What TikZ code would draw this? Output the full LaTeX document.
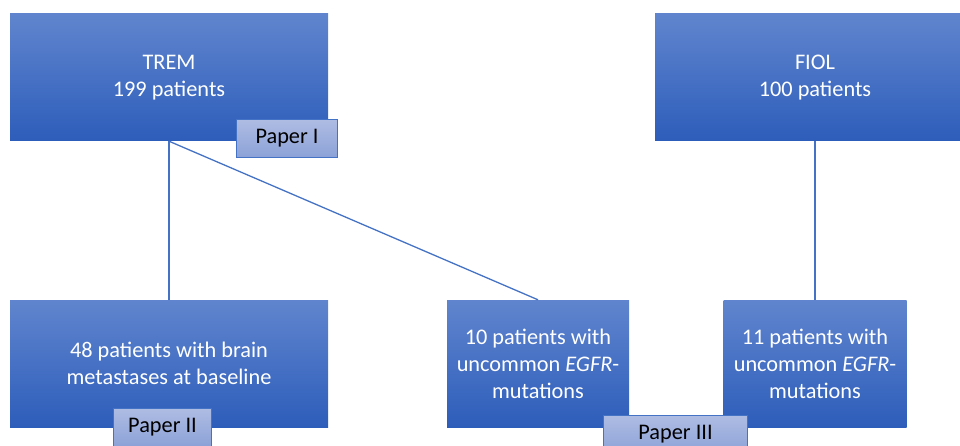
\documentclass[tikz,border=0pt]{standalone}
\usepackage{fontspec}
\setmainfont{Carlito}
\usepackage{tikz}
\usetikzlibrary{positioning}
\definecolor{boxtop}{HTML}{6085CE}
\definecolor{boxbot}{HTML}{2D5DBA}
\definecolor{tagtop}{HTML}{AEBCE3}
\definecolor{tagbot}{HTML}{8CA2D7}
\definecolor{edge}{HTML}{4472C4}
\tikzset{
  box/.style   ={top color=boxtop, bottom color=boxbot, align=center,
                 text=white, minimum height=127pt, inner sep=6pt,
                 font=\fontsize{22.3}{27}\selectfont},
  paper/.style ={draw=edge, line width=1.4pt, top color=tagtop, bottom color=tagbot,
                 minimum height=38pt, inner sep=2pt,
                 font=\fontsize{22.3}{27}\selectfont},
  link/.style  ={draw=edge, line width=1.3pt},
}

\begin{document}
\begin{tikzpicture}[x=1pt, y=-1pt]
  \useasboundingbox (0,0) rectangle (960,446);

  \node[box, minimum width=318pt] (trem)  at (169,77.5)  {TREM\\199 patients};
  \node[box, minimum width=320pt] (fiol)  at (815,77.5)  {FIOL\\100 patients};
  \node[box, minimum width=318pt] (brain) at (169,363.5) {48 patients with brain\\metastases at baseline};
  \node[box, minimum width=182pt] (egfrA) at (538,363.5) {10 patients with\\uncommon \textit{EGFR}-\\mutations};
  \node[box, minimum width=183pt] (egfrB) at (815,363.5) {11 patients with\\uncommon \textit{EGFR}-\\mutations};

  \draw[link] (trem.south) -- (brain.north);
  \draw[link] (trem.south) -- (egfrA.north);
  \draw[link] (fiol.south) -- (egfrB.north);

  \node[paper, minimum width=101pt] (paperI)   at (287,138.5)   {Paper I};
  \node[paper, minimum width=98pt]  (paperII)  at (162.5,427.5) {Paper II};
  \node[paper, minimum width=144pt] (paperIII) at (675.5,434.5) {Paper III};
\end{tikzpicture}
\end{document}
